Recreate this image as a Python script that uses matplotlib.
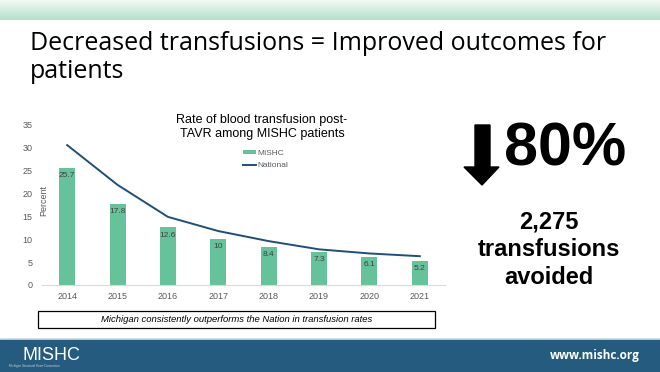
import matplotlib
matplotlib.use("Agg")
import matplotlib.pyplot as plt
import numpy as np
from matplotlib.patches import Rectangle, Polygon

years = ["2014", "2015", "2016", "2017", "2018", "2019", "2020", "2021"]
mishc = [25.7, 17.8, 12.6, 10, 8.4, 7.3, 6.1, 5.2]
national = [30.6, 21.9, 14.9, 11.8, 9.6, 7.8, 6.9, 6.3]
yticks = [0, 5, 10, 15, 20, 25, 30, 35]

W, H = 660, 372
fig = plt.figure(figsize=(W / 100, H / 100), dpi=100)
fig.patch.set_facecolor("white")

def fx(x):
    return x / W

def fy(y):
    return 1 - y / H

# background overlay axes for decorations
bg = fig.add_axes([0, 0, 1, 1], zorder=0)
bg.set_xlim(0, W)
bg.set_ylim(H, 0)
bg.axis("off")

# top gradient band
grad = np.linspace(0, 1, 64).reshape(-1, 1)
top_c = np.array([0.95, 0.98, 0.96])
bot_c = np.array([0.70, 0.88, 0.80])
img = top_c + grad[..., None] * (bot_c - top_c)
img = np.repeat(img, 2, axis=1)
bg.imshow(img, extent=[0, W, 20, 0], aspect="auto", interpolation="bilinear", zorder=0)

# bottom band
bg.add_patch(Rectangle((0, 339), W, 33, color="#245b7e", zorder=1))
bg.plot([0, W], [338.5, 338.5], color="#d9d9d9", lw=0.6, zorder=1)
bg.text(22, 355, "MISHC", color="white", fontsize=13, family="Liberation Sans",
        va="center", ha="left", zorder=2)
bg.text(9, 366.5, "Michigan Structural Heart Consortium", color="#c8d6e0", fontsize=2.2,
        family="Liberation Sans", va="center", ha="left", zorder=2)
bg.text(640, 356, "www.mishc.org", color="white", fontsize=8.5, family="Open Sans",
        weight="bold", va="center", ha="right", zorder=2)

# slide title
bg.text(30, 43, "Decreased transfusions = Improved outcomes for", fontsize=18,
        family="Open Sans", va="center", ha="left", color="black")
bg.text(30, 72, "patients", fontsize=18, family="Open Sans", va="center", ha="left", color="black")

# right side: arrow + big numbers
bg.add_patch(Polygon([(475, 125), (490, 125), (490, 167), (499, 167), (482, 185),
                      (464, 167), (475, 167)], closed=True, color="black", zorder=2))
bg.text(565, 150, "80%", fontsize=44, family="Liberation Sans", weight="bold",
        va="center", ha="center", color="black")
for txt, yy in [("2,275", 222), ("transfusions", 250), ("avoided", 278)]:
    bg.text(549, yy, txt, fontsize=17, family="Liberation Sans", weight="bold",
            va="center", ha="center", color="black")

# chart
ax = fig.add_axes([fx(42), fy(285), (445 - 42) / W, (285 - 125) / H], zorder=2)
ax.patch.set_alpha(0)
x = np.arange(len(years))
bars = ax.bar(x, mishc, width=0.32, color="#66c29a", label="MISHC", zorder=2)
line, = ax.plot(x, national, color="#1f4e79", lw=1.4, label="National", zorder=3)
for xi, v in zip(x, mishc):
    ax.annotate(f"{v:g}", (xi, v), xytext=(0, -3), textcoords="offset points",
                ha="center", va="top", fontsize=6, color="#404040",
                family="Liberation Sans", zorder=4)
ax.set_xlim(-0.5, len(years) - 0.5)
ax.set_ylim(0, 35)
ax.set_yticks(yticks)
ax.set_xticks(x)
ax.set_xticklabels(years)
for s in ["top", "right", "left"]:
    ax.spines[s].set_visible(False)
ax.spines["bottom"].set_color("#d9d9d9")
ax.spines["bottom"].set_linewidth(0.8)
ax.tick_params(axis="both", length=0, labelsize=6.5, labelcolor="#595959")
ax.tick_params(axis="y", pad=7)
ax.tick_params(axis="x", pad=5)
for lbl in ax.get_xticklabels() + ax.get_yticklabels():
    lbl.set_family("Liberation Sans")
fig.text(fx(44), fy(200), "Percent", rotation=90, fontsize=6.5, color="#595959",
         family="Liberation Sans", ha="center", va="center")

# chart title
fig.text(fx(262), fy(127), "Rate of blood transfusion post-\nTAVR among MISHC patients",
         fontsize=9, family="Liberation Sans", ha="center", va="center",
         linespacing=1.15, color="black")

leg = ax.legend([bars, line], ["MISHC", "National"], loc="upper left",
                bbox_to_anchor=((239 - 42) / 403, (285 - 146) / 160),
                frameon=False, handlelength=1.6, handleheight=0.35, handletextpad=0.1,
                labelspacing=0.6, borderpad=0, prop={"family": "Liberation Sans", "size": 6})
for t in leg.get_texts():
    t.set_color("#595959")

# note box
bg.add_patch(Rectangle((38, 311), 397, 17, fill=False, edgecolor="black", lw=0.9, zorder=3))
bg.text(237, 319.5, "Michigan consistently outperforms the Nation in transfusion rates",
        fontsize=6.8, style="italic", family="Liberation Sans", ha="center", va="center",
        color="black", zorder=3)

fig.savefig("out.png", dpi=100)
